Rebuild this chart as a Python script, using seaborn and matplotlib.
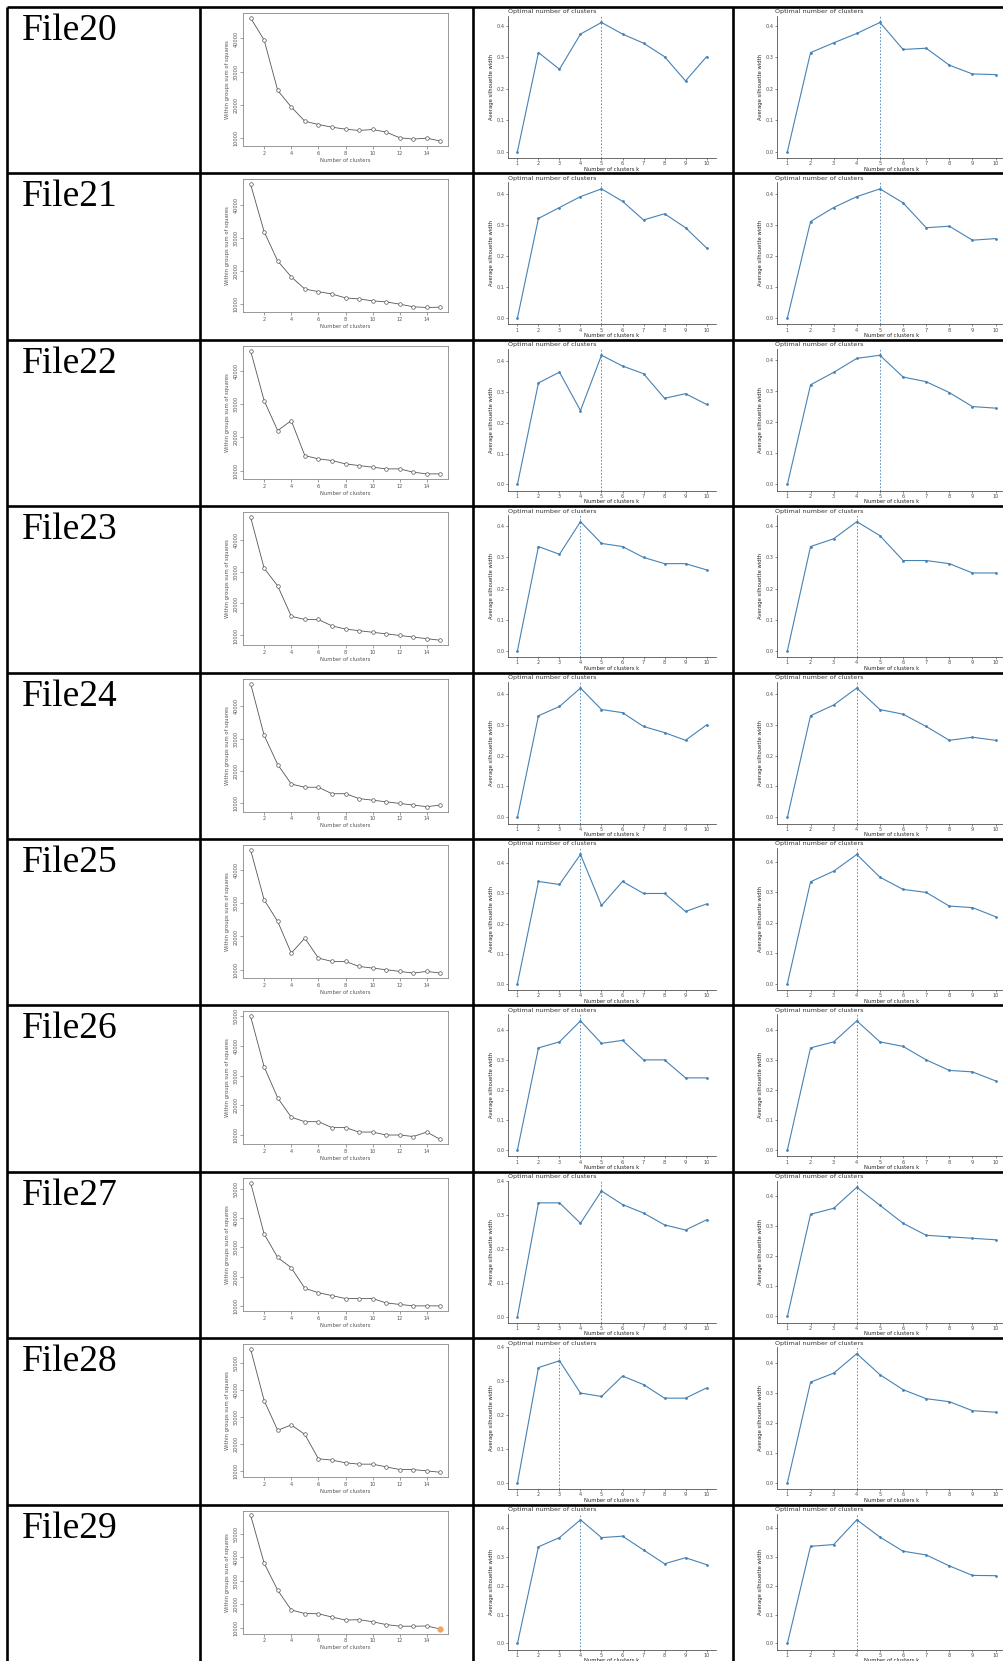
import numpy as np
import pandas as pd
import matplotlib
matplotlib.use("Agg")
import matplotlib.pyplot as plt
import seaborn as sns

# file labels of the table rows
files = ["File20", "File21", "File22", "File23", "File24",
         "File25", "File26", "File27", "File28", "File29"]

# elbow plot: within groups sum of squares, k = 1..15
wss20 = [46200, 39500, 24300, 19300, 15000, 14000, 13200, 12600, 12200, 12500, 11700, 10000, 9600, 9900, 9000]
wss21 = [46400, 32000, 23100, 18300, 14600, 13800, 13100, 11900, 11600, 11000, 10700, 10000, 9200, 9000, 9100]
wss22 = [46000, 31000, 22000, 25000, 14500, 13500, 13000, 12000, 11500, 11000, 10500, 10500, 9500, 9000, 9000]
wss23 = [47000, 31000, 25500, 16000, 15000, 15000, 13000, 12000, 11500, 11000, 10500, 10000, 9500, 9000, 8500]
wss24 = [47000, 31000, 22000, 16000, 15000, 15000, 13000, 13000, 11500, 11000, 10500, 10000, 9500, 9000, 9500]
wss25 = [46000, 31000, 24500, 15000, 19500, 13500, 12500, 12500, 11000, 10500, 10000, 9500, 9000, 9500, 9000]
wss26 = [50000, 33000, 22500, 16000, 14500, 14500, 12500, 12500, 11000, 11000, 10000, 10000, 9500, 11000, 8500]
wss27 = [52000, 34500, 26500, 23000, 16000, 14500, 13500, 12500, 12500, 12500, 11000, 10500, 10000, 10000, 10000]
wss28 = [55000, 36000, 25000, 27000, 23500, 14500, 14000, 13000, 12500, 12500, 11500, 10500, 10500, 10000, 9500]
wss29 = [57900, 37500, 26000, 17600, 16100, 16000, 14600, 13300, 13500, 12600, 11400, 10700, 10700, 10800, 9500]

# silhouette (third column), k = 1..10
silA20 = [0, 0.315, 0.262, 0.374, 0.411, 0.374, 0.345, 0.302, 0.225, 0.302]
silA21 = [0, 0.320, 0.355, 0.390, 0.415, 0.375, 0.315, 0.335, 0.290, 0.225]
silA22 = [0, 0.330, 0.365, 0.240, 0.420, 0.385, 0.360, 0.280, 0.295, 0.260]
silA23 = [0, 0.335, 0.310, 0.415, 0.345, 0.335, 0.300, 0.280, 0.280, 0.260]
silA24 = [0, 0.330, 0.360, 0.420, 0.350, 0.340, 0.295, 0.275, 0.250, 0.300]
silA25 = [0, 0.340, 0.330, 0.430, 0.260, 0.340, 0.300, 0.300, 0.240, 0.265]
silA26 = [0, 0.340, 0.360, 0.430, 0.355, 0.365, 0.300, 0.300, 0.240, 0.240]
silA27 = [0, 0.335, 0.335, 0.275, 0.370, 0.330, 0.305, 0.270, 0.255, 0.285]
silA28 = [0, 0.340, 0.360, 0.265, 0.255, 0.315, 0.290, 0.250, 0.250, 0.280]
silA29 = [0, 0.336, 0.368, 0.430, 0.368, 0.373, 0.325, 0.277, 0.298, 0.274]

# silhouette (fourth column), k = 1..10
silB20 = [0, 0.315, 0.346, 0.376, 0.411, 0.325, 0.329, 0.275, 0.247, 0.245]
silB21 = [0, 0.310, 0.355, 0.390, 0.415, 0.370, 0.290, 0.295, 0.250, 0.255]
silB22 = [0, 0.320, 0.360, 0.405, 0.415, 0.345, 0.330, 0.295, 0.250, 0.245]
silB23 = [0, 0.335, 0.360, 0.415, 0.370, 0.290, 0.290, 0.280, 0.250, 0.250]
silB24 = [0, 0.330, 0.365, 0.420, 0.350, 0.335, 0.295, 0.250, 0.260, 0.250]
silB25 = [0, 0.335, 0.370, 0.425, 0.350, 0.310, 0.300, 0.255, 0.250, 0.220]
silB26 = [0, 0.340, 0.360, 0.430, 0.360, 0.345, 0.300, 0.265, 0.260, 0.230]
silB27 = [0, 0.340, 0.360, 0.430, 0.370, 0.310, 0.270, 0.265, 0.260, 0.255]
silB28 = [0, 0.335, 0.365, 0.430, 0.360, 0.310, 0.280, 0.270, 0.240, 0.235]
silB29 = [0, 0.337, 0.343, 0.429, 0.369, 0.320, 0.307, 0.269, 0.236, 0.235]

# optimal k (dashed line) for both silhouette columns
optA = [5, 5, 5, 4, 4, 4, 4, 5, 3, 4]
optB = [5, 5, 5, 4, 4, 4, 4, 4, 4, 4]

wss_all = [wss20, wss21, wss22, wss23, wss24, wss25, wss26, wss27, wss28, wss29]
silA_all = [silA20, silA21, silA22, silA23, silA24, silA25, silA26, silA27, silA28, silA29]
silB_all = [silB20, silB21, silB22, silB23, silB24, silB25, silB26, silB27, silB28, silB29]

sns.set_theme(style="white")
plt.rcParams['font.family'] = ['DejaVu Sans']

W, H = 1004, 1661
fig = plt.figure(figsize=(W / 100, H / 100), dpi=100)

def add_ax(x0, y0, x1, y1):
    return fig.add_axes([x0 / W, 1 - y1 / H, (x1 - x0) / W, (y1 - y0) / H])

# overlay in pixel coords for the table grid and labels
grid = fig.add_axes([0, 0, 1, 1])
grid.set_xlim(0, W)
grid.set_ylim(H, 0)
grid.axis('off')

ROW_TOP = 7
ROW_H = 166.4
col_x = [7, 200, 473, 733]
tops = [ROW_TOP + ROW_H * i for i in range(10)]

lw_grid = 1.9
for x in col_x:
    grid.plot([x, x], [ROW_TOP, H], color='black', lw=lw_grid, solid_capstyle='butt', zorder=10)
for t in tops:
    grid.plot([col_x[0], W], [t, t], color='black', lw=lw_grid, solid_capstyle='butt', zorder=10)

tick_col = '#555555'
steel = '#4682B4'

for i, name in enumerate(files):
    top = tops[i]
    last = (i == 9)
    grid.text(22, top + 33, name, family='Liberation Serif', fontsize=27,
              color='black', va='baseline', ha='left')

    # ---- elbow plot (R base look)
    eb = top + (129 if last else 139)
    ax = add_ax(243, top + 6, 448, eb)
    k15 = np.arange(1, 16)
    df = pd.DataFrame({'k': k15, 'wss': wss_all[i]})
    sns.lineplot(data=df, x='k', y='wss', ax=ax, color='#555555', lw=0.6,
                 marker='o', markersize=2.6, markerfacecolor='white',
                 markeredgecolor='#555555', markeredgewidth=0.5)
    ax.set_xlim(0.44, 15.56)
    lo, hi = min(wss_all[i]), max(wss_all[i])
    ax.set_ylim(lo - 0.04 * (hi - lo), hi + 0.04 * (hi - lo))
    ax.set_xticks(range(2, 16, 2))
    yt = [v for v in range(10000, 60001, 10000) if lo <= v <= hi + 0.04 * (hi - lo)]
    ax.set_yticks(yt)
    ax.set_yticklabels([str(v) for v in yt], rotation=90, va='center')
    for s in ax.spines.values():
        s.set_color('#888888')
        s.set_linewidth(0.6)
    ax.tick_params(axis='both', which='both', direction='out', length=2.2, width=0.4,
                   color=tick_col, labelsize=3.6, labelcolor=tick_col, pad=1.2,
                   bottom=True, left=True)
    ax.set_xlabel('Number of clusters', fontsize=3.8, color=tick_col, labelpad=1.5)
    ax.set_ylabel('Within groups sum of squares', fontsize=3.8, color=tick_col, labelpad=2)
    if last:
        ax.plot([15], [wss29[-1]], 'o', color='#f4a460', markersize=3.5, zorder=5)

    # ---- silhouette plots (ggplot classic look)
    sb = top + (145 if last else 151)
    for (x0, x1, tx, sil, opt) in [(508, 716, 508, silA_all[i], optA[i]),
                                   (777, 1006, 775, silB_all[i], optB[i])]:
        ax = add_ax(x0, top + 9, x1, sb)
        k10 = np.arange(1, 11)
        df = pd.DataFrame({'k': k10, 'sil': sil})
        ax.axvline(opt, color=steel, lw=0.6, ls=(0, (2, 2)), zorder=1)
        sns.lineplot(data=df, x='k', y='sil', ax=ax, color=steel, lw=0.8,
                     marker='o', markersize=2, markeredgewidth=0, zorder=3)
        ymax = max(sil)
        ax.set_xlim(0.55, 10.45)
        ax.set_ylim(-0.05 * ymax, 1.05 * ymax)
        ax.set_xticks(k10)
        ax.set_yticks([0, 0.1, 0.2, 0.3, 0.4])
        ax.set_yticklabels(['0.0', '0.1', '0.2', '0.3', '0.4'])
        sns.despine(ax=ax)
        for s in ['left', 'bottom']:
            ax.spines[s].set_color('#333333')
            ax.spines[s].set_linewidth(0.5)
        ax.tick_params(axis='both', direction='out', length=1.5, width=0.4,
                       color='#333333', labelsize=3.6, labelcolor='#4d4d4d', pad=0.8,
                       bottom=True, left=True)
        ax.set_xlabel('Number of clusters k', fontsize=3.8, color='#222222', labelpad=0.3)
        ax.set_ylabel('Average silhouette width', fontsize=3.8, color='#222222', labelpad=2)
        grid.text(tx, top + 5, 'Optimal number of clusters', fontsize=4.6,
                  color='#333333', va='center', ha='left')

fig.savefig('out.png', dpi=100)
